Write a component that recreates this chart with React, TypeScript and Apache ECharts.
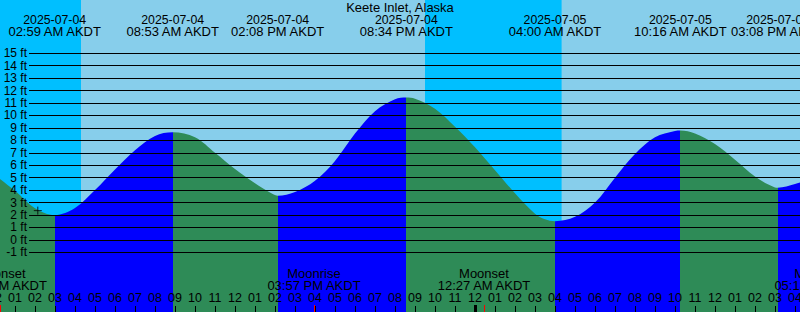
import React, { useEffect, useRef } from "react";
import * as echarts from "echarts";

const FONT = '"Liberation Sans", Arial, sans-serif';
const TITLE = "Keete Inlet, Alaska";

// hours since 2025-07-04 00:00 AKDT
const sampleHours = [0, 1, 2, 2.983, 4, 5, 6, 7, 8, 8.883, 10, 11, 12, 13, 13.75, 14.133, 15, 16, 17, 18, 19, 20, 20.567, 21, 22, 23, 24, 25, 26, 27, 27.5, 28.0, 29, 30, 31, 32, 33, 34, 34.267, 35, 36, 37, 38, 39, 39.133, 40, 40.5];
const heightsFt = [5.2, 3.95, 2.55, 2.0, 2.57, 4.0, 5.65, 7.2, 8.35, 8.65, 8.25, 7.0, 5.7, 4.55, 3.8, 3.55, 3.85, 4.75, 6.35, 8.55, 10.35, 11.3, 11.44, 11.35, 10.55, 9.1, 7.45, 5.6, 3.75, 2.1, 1.65, 1.5, 1.85, 3.0, 5.0, 6.9, 8.25, 8.75, 8.79, 8.55, 7.7, 6.45, 5.1, 4.22, 4.2, 4.5, 4.75];

const tideTimes = [2.983, 8.883, 14.133, 20.567, 28.0, 34.267, 39.133];
const tideKinds = ["low", "high", "low", "high", "low", "high", "low"];
const tideDates = ["2025-07-04", "2025-07-04", "2025-07-04", "2025-07-04", "2025-07-05", "2025-07-05", "2025-07-05"];
const tideClock = ["02:59 AM AKDT", "08:53 AM AKDT", "02:08 PM AKDT", "08:34 PM AKDT", "04:00 AM AKDT", "10:16 AM AKDT", "03:08 PM AKDT"];

const moonTimes = [0.283, 15.95, 24.45, 41.3];
const moonNames = ["Moonset", "Moonrise", "Moonset", "Moonrise"];
const moonClock = ["12:17 AM AKDT", "03:57 PM AKDT", "12:27 AM AKDT", "05:18 PM AKDT"];

const nightStarts = [0, 21.5];
const nightEnds = [4.3, 28.33];
const midnights = [24];
const nowMark = [2.14, 2.35];

const ftTicksMin = -1;
const ftTicksMax = 15;

const DAY = "#87CEEB";
const NIGHT = "#00BFFF";
const RISING = "#0000FF";
const FALLING = "#2E8B57";

const W = 800;
const H = 312;
const LINES_TOP = 53.3;
const LINES_BOTTOM = 252.3;

export default function App() {
  const ref = useRef<HTMLDivElement>(null);
  useEffect(() => {
    const chart = echarts.init(ref.current!, null, { renderer: "svg", width: W, height: H });
    const pxPerFt = (LINES_BOTTOM - LINES_TOP) / (ftTicksMax - ftTicksMin);
    const y0max = ftTicksMax + LINES_TOP / pxPerFt;
    const y0min = ftTicksMin - (H - LINES_BOTTOM) / pxPerFt;

    const pieces: any[] = [];
    tideTimes.forEach((t, i) => {
      const color = tideKinds[i] === "low" ? FALLING : RISING;
      if (i === 0) pieces.push({ lt: t, color });
      else pieces.push({ gte: tideTimes[i - 1], lt: t, color });
    });
    const last = tideTimes.length - 1;
    pieces.push({ gte: tideTimes[last], color: tideKinds[last] === "low" ? RISING : FALLING });

    const noBounds = { outerBoundsMode: "none", containLabel: false };
    const option: any = {
      animation: false,
      grid: [
        { ...noBounds, left: -5, width: 810, top: 0, height: H, show: true, backgroundColor: DAY, borderWidth: 0 },
        { ...noBounds, left: 29, width: W - 29, top: LINES_TOP, height: LINES_BOTTOM - LINES_TOP },
        { ...noBounds, left: -5, width: 810, top: 305, height: 7 },
      ],
      xAxis: [
        { type: "value", gridIndex: 0, min: 0, max: 40.5, show: false },
        { type: "value", gridIndex: 1, min: 0, max: 1, show: false },
        {
          type: "value", gridIndex: 2, min: 0, max: 40.5, interval: 1, z: 10,
          axisLine: { show: false },
          splitLine: { show: false },
          axisTick: { show: true, inside: true, length: 6, lineStyle: { color: "#000", width: 1 } },
          axisLabel: {
            show: true, inside: true, margin: 8, color: "#000", fontSize: 12.5, fontFamily: FONT,
            showMinLabel: true, showMaxLabel: true, hideOverlap: false,
            formatter: (v: number) => {
              if (Math.abs(v - Math.round(v)) > 1e-6) return "";
              const h = Math.round(v) % 12 || 12;
              return (h < 10 ? "0" : "") + h;
            },
          },
        },
      ],
      yAxis: [
        { type: "value", gridIndex: 0, min: y0min, max: y0max, show: false },
        {
          type: "value", gridIndex: 1, min: ftTicksMin, max: ftTicksMax, interval: 1, z: 10,
          axisLine: { show: false }, axisTick: { show: false },
          splitLine: { show: true, lineStyle: { color: "#000", width: 1 } },
          axisLabel: { color: "#000", fontSize: 12, fontFamily: FONT, margin: 2, formatter: "{value} ft" },
        },
        { type: "value", gridIndex: 2, min: 0, max: 1, show: false },
      ],
      visualMap: [{ type: "piecewise", show: false, dimension: 0, seriesIndex: 1, pieces }],
      series: [
        {
          type: "line", xAxisIndex: 0, yAxisIndex: 0, data: [], z: 1, silent: true,
          markArea: {
            silent: true, z: 1,
            itemStyle: { color: NIGHT, borderWidth: 0 },
            label: { show: false },
            data: nightStarts.map((s, i) => [{ xAxis: s }, { xAxis: nightEnds[i] }]),
          },
        },
        {
          type: "line", xAxisIndex: 0, yAxisIndex: 0, z: 2, silent: true,
          smooth: 0.35, symbol: "none",
          lineStyle: { width: 0 },
          areaStyle: { opacity: 1, origin: "start" },
          data: sampleHours.map((t, i) => [t, heightsFt[i]]),
        },
        {
          type: "scatter", xAxisIndex: 0, yAxisIndex: 0, z: 6, silent: true,
          symbol: "path://M0 4 L8 4 M4 0 L4 8", symbolSize: 8,
          itemStyle: { color: "none", borderColor: "#000", borderWidth: 1 },
          data: [nowMark],
        },
        {
          type: "line", xAxisIndex: 2, yAxisIndex: 2, data: [], z: 6, silent: true,
          markLine: {
            silent: true, symbol: ["none", "none"], z: 6,
            label: { show: false },
            data: [
              ...moonTimes.map((t) => ({ xAxis: t, lineStyle: { color: "#FF0000", width: 1, type: "solid" } })),
              ...midnights.map((t) => ({ xAxis: t, lineStyle: { color: "#000", width: 3, type: "solid" } })),
            ],
          },
        },
      ],
    };
    chart.setOption(option);

    const px = (t: number) => chart.convertToPixel({ xAxisIndex: 0 }, t) as number;
    const txt = (text: string, x: number, y: number, size: number) => ({
      type: "text", x, y, z: 100, silent: true,
      style: {
        text, fill: "#000", fontSize: size, fontFamily: FONT,
        align: "center", verticalAlign: "middle", textAlign: "center", textVerticalAlign: "middle",
      },
    });
    const elements: any[] = [txt(TITLE, W / 2, 7, 13)];
    tideTimes.forEach((t, i) => {
      elements.push(txt(tideDates[i], px(t), 19.5, 12.3));
      elements.push(txt(tideClock[i], px(t), 31.5, 13));
    });
    moonTimes.forEach((t, i) => {
      elements.push(txt(moonNames[i], px(t), 273, 13));
      elements.push(txt(moonClock[i], px(t), 285.5, 13));
    });
    chart.setOption({ graphic: { elements } });

    return () => chart.dispose();
  }, []);
  return <div ref={ref} style={{ position: "absolute", left: 0, top: 0, width: W, height: H }} />;
}
